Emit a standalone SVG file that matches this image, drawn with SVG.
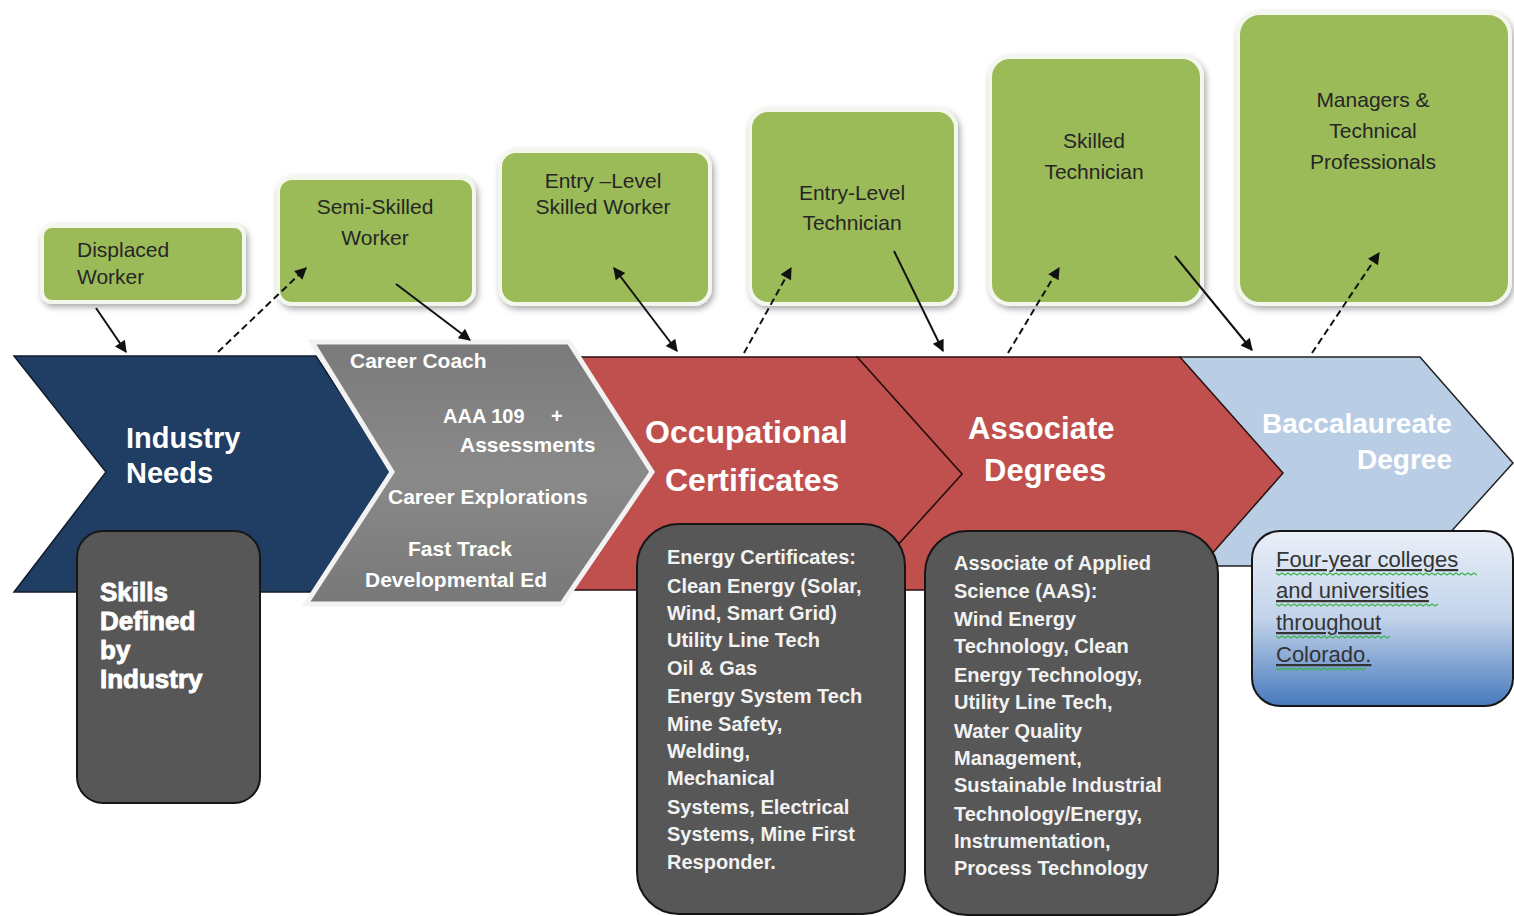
<svg xmlns="http://www.w3.org/2000/svg" width="1514" height="916" viewBox="0 0 1514 916">
<defs>
<style>
.g{fill:#9bbb59;stroke:#f4f7ee;stroke-width:4;filter:url(#sh)}
.gt{font-family:"Liberation Sans",Arial,sans-serif;font-size:21px;fill:#262626;text-anchor:middle}
.gl{font-family:"Liberation Sans",Arial,sans-serif;font-size:21px;fill:#262626;text-anchor:start}
.dk{fill:#575757;stroke:#161616;stroke-width:2}
.wt{font-family:"Liberation Sans",Arial,sans-serif;font-weight:bold;fill:#fff}
.bt{font-family:"Liberation Sans",Arial,sans-serif;font-weight:bold;font-size:20px;fill:#f2f2f2}
.ln{stroke:#111;stroke-width:2;fill:none}
.ds{stroke-dasharray:7,4}
</style>
<filter id="sh" x="-10%" y="-10%" width="125%" height="125%">
<feGaussianBlur in="SourceAlpha" stdDeviation="3"/>
<feOffset dx="2" dy="3" result="b"/>
<feFlood flood-color="#000" flood-opacity="0.35"/>
<feComposite in2="b" operator="in"/>
<feMerge><feMergeNode/><feMergeNode in="SourceGraphic"/></feMerge>
</filter>
<linearGradient id="bl" x1="0" y1="0" x2="0" y2="1">
<stop offset="0" stop-color="#e9eff8"/>
<stop offset="0.5" stop-color="#c2d3ea"/>
<stop offset="1" stop-color="#4779bd"/>
</linearGradient>
<linearGradient id="gr" x1="0" y1="0" x2="0" y2="1">
<stop offset="0" stop-color="#7a7a7a"/>
<stop offset="0.5" stop-color="#8a8a8a"/>
<stop offset="1" stop-color="#787878"/>
</linearGradient>
<marker id="ah" viewBox="0 0 10 10" refX="9" refY="5" markerWidth="14" markerHeight="12" markerUnits="userSpaceOnUse" orient="auto-start-reverse">
<path d="M0,0 L10,5 L0,10 z" fill="#111"/>
</marker>
</defs>
<rect width="1514" height="916" fill="#fff"/>

<g id="chevron-baccalaureate">
<polygon points="1180,357 1420,357 1513,463 1420,566 1180,566 1210,463" fill="#b9cde5" stroke="#222" stroke-width="1.5"/>
<text class="wt" x="1262" y="433" font-size="28" fill="#eef3fa">Baccalaureate</text>
<text class="wt" x="1452" y="469" font-size="28" text-anchor="end" fill="#eef3fa">Degree</text>
</g>
<g id="chevron-associate">
<polygon points="857,357 1180,357 1283,473 1180,590 857,590 962,474" fill="#c0504d" stroke="#2a1010" stroke-width="1.5"/>
<text class="wt" x="968" y="439" font-size="31">Associate</text>
<text class="wt" x="984" y="481" font-size="31">Degrees</text>
</g>
<g id="chevron-occupational">
<polygon points="570,357 857,357 962,474 857,590 570,590 650,474" fill="#c0504d" stroke="#2a1010" stroke-width="1.5"/>
<text class="wt" x="645" y="443" font-size="32">Occupational</text>
<text class="wt" x="665" y="491" font-size="32">Certificates</text>
</g>
<g id="chevron-industry">
<polygon points="14,356 316,356 392,472 316,592 14,592 106,472" fill="#203d63" stroke="#101c2c" stroke-width="1.5"/>
<text class="wt" x="126" y="448" font-size="29">Industry</text>
<text class="wt" x="126" y="483" font-size="29">Needs</text>
</g>
<g id="chevron-career">
<polygon points="312,342 569,342 652,472 562,604 306,604 392,472" fill="url(#gr)" stroke="#f2f2f2" stroke-width="5"/>
<text class="wt" x="350" y="368" font-size="21">Career Coach</text>
<text class="wt" x="443" y="423" font-size="20">AAA 109</text>
<text class="wt" x="551" y="423" font-size="20">+</text>
<text class="wt" x="460" y="452" font-size="21">Assessments</text>
<text class="wt" x="388" y="504" font-size="21">Career Explorations</text>
<text class="wt" x="408" y="556" font-size="21">Fast Track</text>
<text class="wt" x="365" y="587" font-size="21">Developmental Ed</text>
</g>

<g id="node-displaced">
<rect class="g" x="42" y="226" width="202" height="76" rx="10"/>
<text class="gl" x="77" y="257">Displaced</text>
<text class="gl" x="77" y="284">Worker</text>
</g>
<g id="node-semiskilled">
<rect class="g" x="278" y="178" width="196" height="126" rx="14"/>
<text class="gt" x="375" y="214">Semi-Skilled</text>
<text class="gt" x="375" y="245">Worker</text>
</g>
<g id="node-entry-skilled">
<rect class="g" x="500" y="151" width="210" height="153" rx="16"/>
<text class="gt" x="603" y="188">Entry –Level</text>
<text class="gt" x="603" y="214">Skilled Worker</text>
</g>
<g id="node-entry-tech">
<rect class="g" x="750" y="110" width="206" height="194" rx="18"/>
<text class="gt" x="852" y="200">Entry-Level</text>
<text class="gt" x="852" y="230">Technician</text>
</g>
<g id="node-skilled-tech">
<rect class="g" x="990" y="57" width="212" height="247" rx="20"/>
<text class="gt" x="1094" y="148">Skilled</text>
<text class="gt" x="1094" y="179">Technician</text>
</g>
<g id="node-managers">
<rect class="g" x="1238" y="13" width="272" height="291" rx="22"/>
<text class="gt" x="1373" y="107">Managers &amp;</text>
<text class="gt" x="1373" y="138">Technical</text>
<text class="gt" x="1373" y="169">Professionals</text>
</g>

<g id="node-skills">
<rect class="dk" x="77" y="531" width="183" height="272" rx="26"/>
<text class="wt" x="100" y="601" font-size="26" stroke="#fff" stroke-width="0.9">Skills</text>
<text class="wt" x="100" y="630" font-size="26" stroke="#fff" stroke-width="0.9">Defined</text>
<text class="wt" x="100" y="659" font-size="26" stroke="#fff" stroke-width="0.9">by</text>
<text class="wt" x="100" y="688" font-size="26" stroke="#fff" stroke-width="0.9">Industry</text>
</g>
<g id="node-energy">
<rect class="dk" x="637" y="524" width="268" height="390" rx="42"/>
<text class="bt" x="667" y="564">Energy Certificates:</text>
<text class="bt" x="667" y="593">Clean Energy (Solar,</text>
<text class="bt" x="667" y="620">Wind, Smart Grid)</text>
<text class="bt" x="667" y="647">Utility Line Tech</text>
<text class="bt" x="667" y="675">Oil &amp; Gas</text>
<text class="bt" x="667" y="703">Energy System Tech</text>
<text class="bt" x="667" y="731">Mine Safety,</text>
<text class="bt" x="667" y="758">Welding,</text>
<text class="bt" x="667" y="785">Mechanical</text>
<text class="bt" x="667" y="814">Systems, Electrical</text>
<text class="bt" x="667" y="841">Systems, Mine First</text>
<text class="bt" x="667" y="869">Responder.</text>
</g>
<g id="node-aas">
<rect class="dk" x="925" y="531" width="293" height="384" rx="42"/>
<text class="bt" x="954" y="570" font-size="21">Associate of Applied</text>
<text class="bt" x="954" y="598" font-size="21">Science (AAS):</text>
<text class="bt" x="954" y="626" font-size="21">Wind Energy</text>
<text class="bt" x="954" y="653" font-size="21">Technology, Clean</text>
<text class="bt" x="954" y="682" font-size="21">Energy Technology,</text>
<text class="bt" x="954" y="709" font-size="21">Utility Line Tech,</text>
<text class="bt" x="954" y="738" font-size="21">Water Quality</text>
<text class="bt" x="954" y="765" font-size="21">Management,</text>
<text class="bt" x="954" y="792" font-size="21">Sustainable Industrial</text>
<text class="bt" x="954" y="821" font-size="21">Technology/Energy,</text>
<text class="bt" x="954" y="848" font-size="21">Instrumentation,</text>
<text class="bt" x="954" y="875" font-size="21">Process Technology</text>
</g>
<g id="node-fouryear">
<rect x="1252" y="531" width="261" height="175" rx="28" fill="url(#bl)" stroke="#161616" stroke-width="2"/>
<g font-family="'Liberation Sans',Arial,sans-serif" font-size="22" fill="#333" text-decoration="underline">
<text x="1276" y="567">Four-year colleges</text>
<text x="1276" y="598">and universities</text>
<text x="1276" y="630">throughout</text>
<text x="1276" y="662">Colorado.</text>
</g>
<g stroke="#3bb54a" stroke-width="1.2" fill="none">
<path d="M1276,573 l3,2 l3,-2 l3,2 l3,-2 l3,2 l3,-2 l3,2 l3,-2 l3,2 l3,-2 l3,2 l3,-2 l3,2 l3,-2 l3,2 l3,-2 l3,2 l3,-2 l3,2 l3,-2 l3,2 l3,-2 l3,2 l3,-2 l3,2 l3,-2 l3,2 l3,-2 l3,2 l3,-2 l3,2 l3,-2 l3,2 l3,-2 l3,2 l3,-2 l3,2 l3,-2 l3,2 l3,-2 l3,2 l3,-2 l3,2 l3,-2 l3,2 l3,-2 l3,2 l3,-2 l3,2 l3,-2 l3,2 l3,-2 l3,2 l3,-2 l3,2 l3,-2 l3,2 l3,-2 l3,2 l3,-2 l3,2 l3,-2 l3,2 l3,-2 l3,2 l3,-2 l3,2"/>
<path d="M1276,604 l3,2 l3,-2 l3,2 l3,-2 l3,2 l3,-2 l3,2 l3,-2 l3,2 l3,-2 l3,2 l3,-2 l3,2 l3,-2 l3,2 l3,-2 l3,2 l3,-2 l3,2 l3,-2 l3,2 l3,-2 l3,2 l3,-2 l3,2 l3,-2 l3,2 l3,-2 l3,2 l3,-2 l3,2 l3,-2 l3,2 l3,-2 l3,2 l3,-2 l3,2 l3,-2 l3,2 l3,-2 l3,2 l3,-2 l3,2 l3,-2 l3,2 l3,-2 l3,2 l3,-2 l3,2 l3,-2 l3,2 l3,-2 l3,2 l3,-2"/>
<path d="M1276,636 l3,2 l3,-2 l3,2 l3,-2 l3,2 l3,-2 l3,2 l3,-2 l3,2 l3,-2 l3,2 l3,-2 l3,2 l3,-2 l3,2 l3,-2 l3,2 l3,-2 l3,2 l3,-2 l3,2 l3,-2 l3,2 l3,-2 l3,2 l3,-2 l3,2 l3,-2 l3,2 l3,-2 l3,2 l3,-2 l3,2 l3,-2 l3,2 l3,-2 l3,2 l3,-2"/>
<path d="M1276,668 l3,2 l3,-2 l3,2 l3,-2 l3,2 l3,-2 l3,2 l3,-2 l3,2 l3,-2 l3,2 l3,-2 l3,2 l3,-2 l3,2 l3,-2 l3,2 l3,-2 l3,2 l3,-2 l3,2 l3,-2 l3,2 l3,-2 l3,2 l3,-2 l3,2 l3,-2 l3,2 l3,-2"/>
</g>
</g>

<g id="connectors">
<line class="ln" x1="96" y1="308" x2="126" y2="352" marker-end="url(#ah)"/>
<line class="ln ds" x1="218" y1="352" x2="306" y2="268" marker-end="url(#ah)"/>
<line class="ln" x1="396" y1="284" x2="470" y2="340" marker-end="url(#ah)"/>
<line class="ln" x1="614" y1="268" x2="677" y2="351" marker-start="url(#ah)" marker-end="url(#ah)"/>
<line class="ln ds" x1="744" y1="353" x2="791" y2="268" marker-end="url(#ah)"/>
<line class="ln" x1="894" y1="251" x2="943" y2="351" marker-end="url(#ah)"/>
<line class="ln ds" x1="1008" y1="353" x2="1059" y2="268" marker-end="url(#ah)"/>
<line class="ln" x1="1175" y1="256" x2="1252" y2="350" marker-end="url(#ah)"/>
<line class="ln ds" x1="1312" y1="353" x2="1379" y2="253" marker-end="url(#ah)"/>
</g>
</svg>
